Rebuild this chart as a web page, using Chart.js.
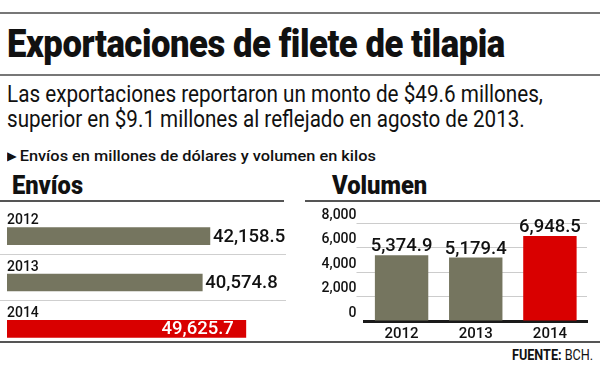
<!DOCTYPE html>
<html>
<head>
<meta charset="utf-8">
<script src="https://cdn.jsdelivr.net/npm/chart.js@4/dist/chart.umd.min.js"></script>
<style>
  body { margin: 0; width: 600px; height: 367px; background: #fff; position: relative; overflow: hidden; font-family: Roboto, sans-serif; color: #111; }
  .t { position: absolute; white-space: nowrap; display: inline-block; transform-origin: left top; }
  .linea { position: absolute; height: 0; }
  .caja { position: absolute; }
</style>
</head>
<body>
<!-- lineas de la cabecera -->
<div class="linea" style="left:0;top:12px;width:600px;border-top:2px solid #777"></div>
<div class="linea" style="left:0;top:74px;width:600px;border-top:2px solid #777"></div>

<div class="t" data-w="498" style="left:7px;top:22px;font:900 38px Roboto;letter-spacing:-0.5px">Exportaciones de filete de tilapia</div>
<div class="t" data-w="536" style="left:7px;top:81px;font:400 23px Roboto">Las exportaciones reportaron un monto de $49.6 millones,</div>
<div class="t" data-w="518" style="left:7px;top:106px;font:400 23px Roboto">superior en $9.1 millones al reflejado en agosto de 2013.</div>
<div class="t" data-w="369" style="left:7px;top:147px;font:500 15.5px Roboto"><span style="font-size:12px;position:relative;top:-1px;margin-right:3px">&#9654;</span>Envíos en millones de dólares y volumen en kilos</div>

<div class="t" data-w="71" style="left:12px;top:171px;font:900 25px Roboto">Envíos</div>
<div class="t" data-w="95" style="left:332px;top:171px;font:900 25px Roboto">Volumen</div>
<div class="linea" style="left:0;top:200px;width:284px;border-top:2px solid #555"></div>
<div class="linea" style="left:305px;top:200px;width:295px;border-top:2px solid #555"></div>

<div class="caja" style="left:0;top:201px;width:300px;height:155px"><canvas id="grafica_envios"></canvas></div>
<div class="caja" style="left:300px;top:201px;width:300px;height:145px"><canvas id="grafica_volumen"></canvas></div>

<div class="linea" style="left:0;top:341px;width:600px;border-top:2px solid #555"></div>
<div class="t" data-w="81" data-r="593" style="top:347px;font:400 14.5px Roboto"><b style="font-weight:700">FUENTE:</b> BCH.</div>

<script>
// datos
const anios = ['2012', '2013', '2014'];
const envios = [42158.5, 40574.8, 49625.7];   // millones de dolares
const volumen = [5374.9, 5179.4, 6948.5];     // kilos
const ticksVolumen = [0, 2000, 4000, 6000, 8000];
const colores = ['#75755f', '#75755f', '#d90000'];

// ajustar el ancho de los textos al de la imagen original
document.querySelectorAll('.t').forEach(el => {
	const w = el.offsetWidth;
	const k = Number(el.dataset.w) / w;
	if (el.dataset.r) {
		el.style.left = (Number(el.dataset.r) - Number(el.dataset.w)) + 'px';
	}
	el.style.transform = 'scaleX(' + k + ')';
});

const fmt = v => v.toLocaleString('en-US', { minimumFractionDigits: 1, maximumFractionDigits: 1 });

// etiquetas de la grafica horizontal: año arriba y valor a la derecha
const etiquetasEnvios = {
	id: 'etiquetasEnvios',
	beforeDatasetsDraw(chart) {
		const ctx = chart.ctx;
		const barras = chart.getDatasetMeta(0).data;
		ctx.save();
		ctx.strokeStyle = '#cfcfcf';
		ctx.lineWidth = 1;
		for (let i = 1; i < barras.length; i++) {
			const y = Math.round(barras[i].y - 29) + 0.5;
			ctx.beginPath();
			ctx.moveTo(0, y);
			ctx.lineTo(286, y);
			ctx.stroke();
		}
		ctx.restore();
	},
	afterDatasetsDraw(chart) {
		const ctx = chart.ctx;
		const barras = chart.getDatasetMeta(0).data;
		ctx.save();
		barras.forEach((b, i) => {
			ctx.fillStyle = '#111';
			ctx.font = '500 14px Roboto';
			ctx.textAlign = 'left';
			ctx.textBaseline = 'alphabetic';
			ctx.fillText(anios[i], 7, b.y - 12);
			ctx.font = '500 18.5px Roboto';
			ctx.textBaseline = 'middle';
			if (i === barras.length - 1) {
				ctx.fillStyle = '#fff';
				ctx.textAlign = 'right';
				ctx.fillText(fmt(envios[i]), b.x - 12, b.y + 1);
			} else {
				ctx.fillText(fmt(envios[i]), b.x + 3, b.y + 1);
			}
		});
		ctx.restore();
	}
};

const etiquetasVolumen = {
	id: 'etiquetasVolumen',
	afterDatasetsDraw(chart) {
		const ctx = chart.ctx;
		ctx.save();
		ctx.fillStyle = '#111';
		ctx.font = '500 18.5px Roboto';
		ctx.textAlign = 'center';
		ctx.textBaseline = 'alphabetic';
		chart.getDatasetMeta(0).data.forEach((b, i) => {
			ctx.fillText(fmt(volumen[i]), b.x, b.y - 4);
		});
		ctx.restore();
	}
};

function crear_graficas()
{
	new Chart(document.getElementById('grafica_envios'), {
		type: 'bar',
		data: {
			labels: anios,
			datasets: [{
				data: envios,
				backgroundColor: colores,
				barThickness: 17,
				borderWidth: 0
			}]
		},
		options: {
			indexAxis: 'y',
			responsive: true,
			maintainAspectRatio: false,
			animation: false,
			layout: { padding: { left: 7, right: 10, top: 12, bottom: 4 } },
			plugins: { legend: { display: false }, tooltip: { enabled: false } },
			scales: {
				x: { display: false, min: 0, max: 58800 },
				y: { display: false }
			}
		},
		plugins: [etiquetasEnvios]
	});

	new Chart(document.getElementById('grafica_volumen'), {
		type: 'bar',
		data: {
			labels: anios,
			datasets: [{
				data: volumen,
				backgroundColor: colores,
				barPercentage: 0.72,
				categoryPercentage: 1,
				borderWidth: 0
			}]
		},
		options: {
			responsive: true,
			maintainAspectRatio: false,
			animation: false,
			layout: { padding: { left: 0, right: 13, top: 22, bottom: 0 } },
			plugins: { legend: { display: false }, tooltip: { enabled: false } },
			scales: {
				x: {
					grid: { display: false, drawTicks: false },
					border: { display: true, color: '#1a1a1a', width: 3 },
					ticks: { color: '#111', font: { family: 'Roboto', size: 15, weight: '500' }, padding: 4 },
					afterFit: s => { s.height = 25; }
				},
				y: {
					min: 0,
					max: 8000,
					afterBuildTicks: s => { s.ticks = ticksVolumen.map(v => ({ value: v })); },
					border: { display: false },
					grid: {
						color: c => c.tick && c.tick.value === 0 ? 'rgba(0,0,0,0)' : '#cccccc',
						lineWidth: 1,
						tickLength: 8
					},
					ticks: {
						color: '#111',
						font: { family: 'Roboto', size: 14, weight: '500' },
						padding: 0,
						labelOffset: -8,
						callback: v => v.toLocaleString('en-US')
					},
					afterFit: s => { s.width = 64.5; }
				}
			}
		},
		plugins: [etiquetasVolumen]
	});
}
crear_graficas();
</script>
</body>
</html>
